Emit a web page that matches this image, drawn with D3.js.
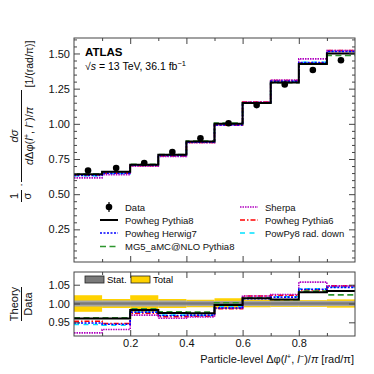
<!DOCTYPE html>
<html>
<head>
<meta charset="utf-8">
<script src="https://cdn.jsdelivr.net/npm/d3@7"></script>
<style>
  body { margin: 0; background: #fff; }
  svg { font-family: "Liberation Sans", Arial, sans-serif; }
</style>
</head>
<body>
<svg id="chart" width="374" height="374"></svg>
<script>
// bin edges in dphi/pi
var binEdges = [0, 0.1, 0.2, 0.3, 0.4, 0.5, 0.6, 0.7, 0.8, 0.9, 1.0];

// unfolded data, normalised cross-section
var dataVals = [0.668, 0.686, 0.722, 0.800, 0.898, 1.004, 1.133, 1.280, 1.383, 1.452];
// relative uncertainties (stat only, total)
var statErr = [0.008, 0.008, 0.008, 0.008, 0.007, 0.007, 0.007, 0.007, 0.007, 0.007];
var totErr  = [0.022, 0.012, 0.022, 0.012, 0.010, 0.014, 0.010, 0.009, 0.009, 0.011];

// theory / data ratios
var ratioPowPy8   = [0.960, 0.960, 0.983, 0.975, 0.974, 0.996, 1.014, 1.011, 1.030, 1.033];
var ratioPowHw7   = [0.948, 0.945, 0.977, 0.968, 0.969, 0.988, 1.013, 1.017, 1.038, 1.043];
var ratioMG5      = [0.962, 0.962, 0.986, 0.978, 0.977, 1.002, 1.014, 1.010, 1.033, 1.023];
var ratioSherpa   = [0.922, 0.931, 0.969, 0.961, 0.964, 0.988, 1.020, 1.024, 1.057, 1.047];
var ratioPowPy6   = [0.953, 0.947, 0.974, 0.965, 0.966, 0.986, 1.020, 1.022, 1.036, 1.047];
var ratioRadDown  = [0.944, 0.942, 0.977, 0.969, 0.968, 0.991, 1.016, 1.018, 1.039, 1.044];

var yTopTicks = [0.25, 0.50, 0.75, 1.00, 1.25, 1.50];
var yRatTicks = [0.95, 1.00, 1.05];
var xTicks = [0.2, 0.4, 0.6, 0.8];

// drawing order: black nominal last so it sits on top
var series = [
  {name: "PowPy8 rad. down",    ratio: ratioRadDown, color: "#00e1ff", dash: "5,4.5",       width: 1.6},
  {name: "Powheg Pythia6",      ratio: ratioPowPy6,  color: "#ff0000", dash: "5,2,1.5,2",   width: 1.6},
  {name: "Sherpa",              ratio: ratioSherpa,  color: "#b000c0", dash: "1.5,1",       width: 1.6},
  {name: "MG5_aMC@NLO Pythia8", ratio: ratioMG5,     color: "#2e962e", dash: "6,3.5",       width: 1.6},
  {name: "Powheg Herwig7",      ratio: ratioPowHw7,  color: "#0000ff", dash: "2,1.5",       width: 1.6},
  {name: "Powheg Pythia8",      ratio: ratioPowPy8,  color: "#000000", dash: null,          width: 2}
];
var byName = {};
series.forEach(function(s) { byName[s.name] = s; });

var svg = d3.select("#chart");
svg.append("rect").attr("width", 374).attr("height", 374).attr("fill", "#fff");

var x = d3.scaleLinear().domain([0, 1]).range([74, 355]);
var yTop = d3.scaleLinear().domain([0.018, 1.61]).range([262, 38]);
var yRat = d3.scaleLinear().domain([0.9136, 1.0838]).range([336, 272]);

var frameCol = "#444";

function histPts(vals) {
  var pts = vals.map(function(v, i) { return [binEdges[i], v]; });
  pts.push([binEdges[binEdges.length - 1], vals[vals.length - 1]]);
  return pts;
}

function addTicks(g, yScale, major, minor, y0, y1, labels) {
  // left
  g.append("g").attr("transform", "translate(" + x.range()[0] + ",0)")
    .call(d3.axisLeft(yScale).tickValues(major).tickSize(-6).tickPadding(4)
      .tickFormat(labels ? d3.format(".2f") : ""));
  if (minor) g.append("g").attr("transform", "translate(" + x.range()[0] + ",0)")
    .call(d3.axisLeft(yScale).tickValues(minor).tickSize(-3).tickFormat(""));
  // right
  g.append("g").attr("transform", "translate(" + x.range()[1] + ",0)")
    .call(d3.axisRight(yScale).tickValues(major).tickSize(-6).tickFormat(""));
  if (minor) g.append("g").attr("transform", "translate(" + x.range()[1] + ",0)")
    .call(d3.axisRight(yScale).tickValues(minor).tickSize(-3).tickFormat(""));
  // top and bottom
  var xMinor = [0.1, 0.3, 0.5, 0.7, 0.9];
  g.append("g").attr("transform", "translate(0," + y0 + ")")
    .call(d3.axisTop(x).tickValues(xTicks).tickSize(-6).tickFormat(""));
  g.append("g").attr("transform", "translate(0," + y0 + ")")
    .call(d3.axisTop(x).tickValues(xMinor).tickSize(-3).tickFormat(""));
  g.append("g").attr("transform", "translate(0," + y1 + ")")
    .call(d3.axisBottom(x).tickValues(xTicks).tickSize(-6).tickPadding(3)
      .tickFormat(labels === "x" ? d3.format(".1f") : ""));
  g.append("g").attr("transform", "translate(0," + y1 + ")")
    .call(d3.axisBottom(x).tickValues(xMinor).tickSize(-3).tickFormat(""));
  g.selectAll(".domain").remove();
  g.selectAll(".tick line").attr("stroke", frameCol);
  g.selectAll(".tick text").attr("font-size", 11).attr("fill", "#111")
    .attr("font-family", "Liberation Sans, Arial, sans-serif");
}

// ---------------- top panel ----------------
var gTop = svg.append("g");
var topMinor = d3.range(0.05, 1.61, 0.05).filter(function(v) {
  return Math.abs(v / 0.25 - Math.round(v / 0.25)) > 0.01 && v > 0.02;
});

var lineTop = d3.line().x(function(d) { return x(d[0]); })
  .y(function(d) { return yTop(d[1]); }).curve(d3.curveStepAfter);

series.forEach(function(s) {
  var vals = s.ratio.map(function(r, i) { return r * dataVals[i]; });
  gTop.append("path").datum(histPts(vals))
    .attr("d", lineTop).attr("fill", "none")
    .attr("stroke", s.color).attr("stroke-width", s.width)
    .attr("stroke-dasharray", s.dash);
});

var mids = dataVals.map(function(v, i) { return (binEdges[i] + binEdges[i + 1]) / 2; });
gTop.selectAll("line.err").data(dataVals).enter().append("line")
  .attr("x1", function(d, i) { return x(mids[i]); })
  .attr("x2", function(d, i) { return x(mids[i]); })
  .attr("y1", function(d, i) { return yTop(d * (1 + totErr[i])); })
  .attr("y2", function(d, i) { return yTop(d * (1 - totErr[i])); })
  .attr("stroke", "#000").attr("stroke-width", 1.2);
gTop.selectAll("circle.pt").data(dataVals).enter().append("circle")
  .attr("cx", function(d, i) { return x(mids[i]); })
  .attr("cy", function(d) { return yTop(d); })
  .attr("r", 3.3).attr("fill", "#000");

gTop.append("rect").attr("x", 74).attr("y", 38).attr("width", 281).attr("height", 224)
  .attr("fill", "none").attr("stroke", frameCol).attr("stroke-width", 1);
addTicks(gTop, yTop, yTopTicks, topMinor, 38, 262, true);

// ATLAS label
gTop.append("text").attr("x", 85).attr("y", 56).attr("font-size", 11.5)
  .attr("font-weight", "bold").text("ATLAS");
var lumi = gTop.append("text").attr("x", 85).attr("y", 70).attr("font-size", 10.5);
lumi.append("tspan").text("\u221A");
lumi.append("tspan").attr("font-style", "italic").text("s");
lumi.append("tspan").text(" = 13 TeV, 36.1 fb");
lumi.append("tspan").attr("dy", -4).attr("font-size", 7.5).text("\u22121");

// legend
var legRows = [207, 220, 233, 246.5];
var legLeft = [{name: "Data"}, {name: "Powheg Pythia8"}, {name: "Powheg Herwig7"}, {name: "MG5_aMC@NLO Pythia8"}];
var legRight = [{name: "Sherpa"}, {name: "Powheg Pythia6"}, {name: "PowPy8 rad. down"}];
function legEntry(item, row, x0) {
  var yy = legRows[row];
  if (item.name === "Data") {
    gTop.append("line").attr("x1", x0 + 9).attr("x2", x0 + 9).attr("y1", yy - 5).attr("y2", yy + 5)
      .attr("stroke", "#000").attr("stroke-width", 1.2);
    gTop.append("circle").attr("cx", x0 + 9).attr("cy", yy).attr("r", 3.3).attr("fill", "#000");
  } else {
    var s = byName[item.name];
    gTop.append("line").attr("x1", x0).attr("x2", x0 + 18).attr("y1", yy).attr("y2", yy)
      .attr("stroke", s.color).attr("stroke-width", s.width).attr("stroke-dasharray", s.dash);
  }
  gTop.append("text").attr("x", x0 + 25).attr("y", yy + 3.5).attr("font-size", 9.5)
    .attr("fill", "#111").text(item.name);
}
legLeft.forEach(function(it, i) { legEntry(it, i, 100); });
legRight.forEach(function(it, i) { legEntry(it, i, 240); });

// y title (rotated fraction)
var yt = gTop.append("g").attr("transform", "rotate(-90)").attr("font-size", 11).attr("fill", "#111");
yt.append("text").attr("x", -196).attr("y", 18).attr("text-anchor", "middle").text("1");
yt.append("line").attr("x1", -202).attr("x2", -190).attr("y1", 21.5).attr("y2", 21.5).attr("stroke", "#111");
yt.append("text").attr("x", -196).attr("y", 31).attr("text-anchor", "middle").text("\u03C3");
yt.append("text").attr("x", -185).attr("y", 25).attr("text-anchor", "middle").text("\u00B7");
yt.append("text").attr("x", -136).attr("y", 18).attr("text-anchor", "middle")
  .attr("font-style", "italic").text("d\u03C3");
yt.append("line").attr("x1", -182).attr("x2", -90).attr("y1", 21.5).attr("y2", 21.5).attr("stroke", "#111");
var den = yt.append("text").attr("x", -136).attr("y", 33).attr("text-anchor", "middle");
den.append("tspan").attr("font-style", "italic").text("d");
den.append("tspan").text("\u0394\u03C6(");
den.append("tspan").attr("font-style", "italic").text("l");
den.append("tspan").attr("dy", -4).attr("font-size", 7.5).text("+");
den.append("tspan").attr("dy", 4).text(", ");
den.append("tspan").attr("font-style", "italic").text("l");
den.append("tspan").attr("dy", -4).attr("font-size", 7.5).text("\u2212");
den.append("tspan").attr("dy", 4).text(")/");
den.append("tspan").attr("font-style", "italic").text("\u03C0");
yt.append("text").attr("x", -64).attr("y", 33).attr("text-anchor", "middle").attr("font-size", 10.5)
  .text("[1/(rad/\u03C0)]");

// ---------------- ratio panel ----------------
var rat = svg.append("g");
rat.selectAll("rect.tot").data(totErr).enter().append("rect")
  .attr("x", function(d, i) { return x(binEdges[i]); })
  .attr("width", function(d, i) { return x(binEdges[i + 1]) - x(binEdges[i]); })
  .attr("y", function(d) { return yRat(1 + d); })
  .attr("height", function(d) { return yRat(1 - d) - yRat(1 + d); })
  .attr("fill", "#ffd200");
rat.selectAll("rect.stat").data(statErr).enter().append("rect")
  .attr("x", function(d, i) { return x(binEdges[i]); })
  .attr("width", function(d, i) { return x(binEdges[i + 1]) - x(binEdges[i]); })
  .attr("y", function(d) { return yRat(1 + d); })
  .attr("height", function(d) { return yRat(1 - d) - yRat(1 + d); })
  .attr("fill", "#a6a6a6");
rat.append("line").attr("x1", x(0)).attr("x2", x(1)).attr("y1", yRat(1)).attr("y2", yRat(1))
  .attr("stroke", "#7a7a7a").attr("stroke-width", 2.5);

var lineRat = d3.line().x(function(d) { return x(d[0]); })
  .y(function(d) { return yRat(d[1]); }).curve(d3.curveStepAfter);
series.forEach(function(s) {
  rat.append("path").datum(histPts(s.ratio))
    .attr("d", lineRat).attr("fill", "none")
    .attr("stroke", s.color).attr("stroke-width", s.width)
    .attr("stroke-dasharray", s.dash);
});

rat.append("rect").attr("x", 74).attr("y", 272).attr("width", 281).attr("height", 64)
  .attr("fill", "none").attr("stroke", frameCol).attr("stroke-width", 1);
addTicks(rat, yRat, yRatTicks, null, 272, 336, "x");

// band legend
rat.append("rect").attr("x", 85).attr("y", 276).attr("width", 19).attr("height", 7)
  .attr("fill", "#7a7a7a").attr("stroke", "#222").attr("stroke-width", 0.8);
rat.append("text").attr("x", 107).attr("y", 283).attr("font-size", 9.5).text("Stat.");
rat.append("rect").attr("x", 131).attr("y", 276).attr("width", 19).attr("height", 7)
  .attr("fill", "#ffd200").attr("stroke", "#222").attr("stroke-width", 0.8);
rat.append("text").attr("x", 153).attr("y", 283).attr("font-size", 9.5).text("Total");

// ratio y title
var rt = rat.append("g").attr("transform", "rotate(-90)").attr("font-size", 11).attr("fill", "#111");
rt.append("text").attr("x", -304).attr("y", 18).attr("text-anchor", "middle").text("Theory");
rt.append("line").attr("x1", -321).attr("x2", -287).attr("y1", 21.5).attr("y2", 21.5).attr("stroke", "#111");
rt.append("text").attr("x", -304).attr("y", 32).attr("text-anchor", "middle").text("Data");

// x title
var xt = svg.append("text").attr("x", 354).attr("y", 363).attr("text-anchor", "end")
  .attr("font-size", 11).attr("fill", "#111");
xt.append("tspan").text("Particle-level \u0394\u03C6(");
xt.append("tspan").attr("font-style", "italic").text("l");
xt.append("tspan").attr("dy", -4).attr("font-size", 7.5).text("+");
xt.append("tspan").attr("dy", 4).text(", ");
xt.append("tspan").attr("font-style", "italic").text("l");
xt.append("tspan").attr("dy", -4).attr("font-size", 7.5).text("\u2212");
xt.append("tspan").attr("dy", 4).text(")/");
xt.append("tspan").attr("font-style", "italic").text("\u03C0");
xt.append("tspan").text(" [rad/\u03C0]");
</script>
</body>
</html>
